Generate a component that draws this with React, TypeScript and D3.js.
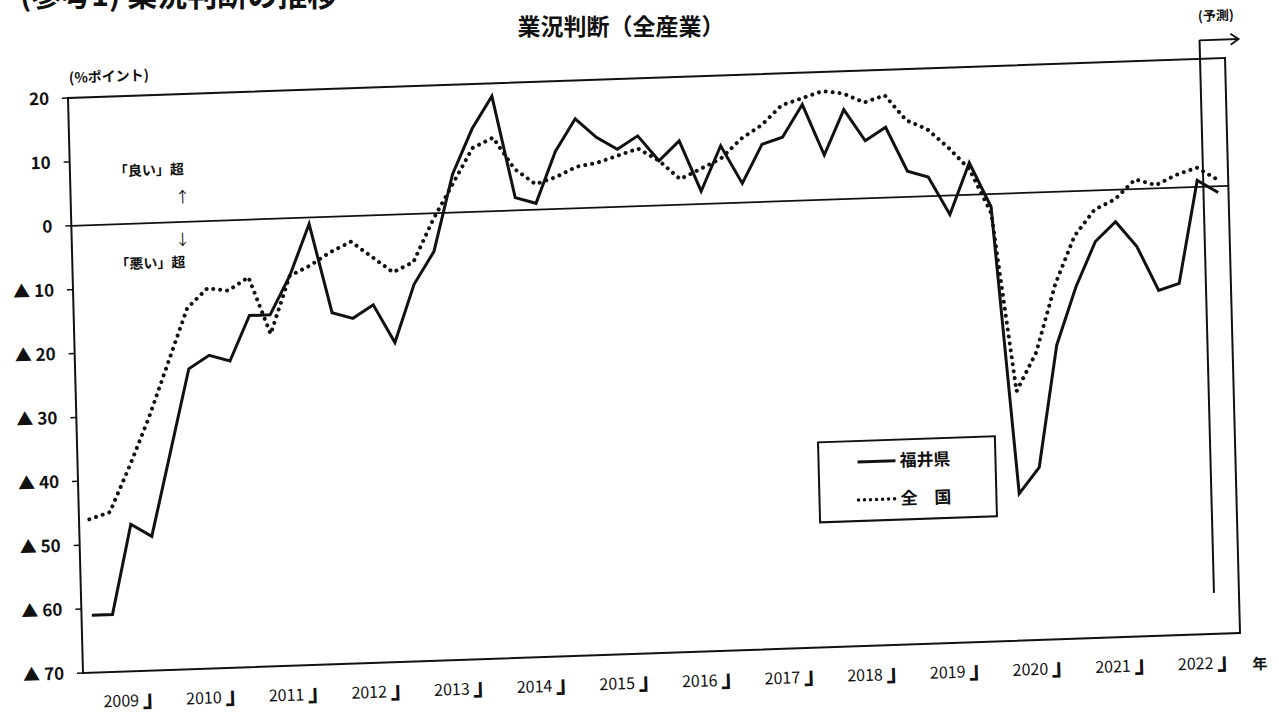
import React from 'react';
import * as d3 from 'd3';

// ---- data (quarterly, 2009Q1 .. 2022Q4; last quarter is forecast) ----
const years = [2009, 2010, 2011, 2012, 2013, 2014, 2015, 2016, 2017, 2018, 2019, 2020, 2021, 2022];
const quarterNames = ['Q1', 'Q2', 'Q3', 'Q4'];

// 福井県 (solid)
const fukui = [
  -61, -61, -47, -49,
  -36, -23, -21, -22,
  -15, -15, -9, -1,
  -15, -16, -14, -20,
  -11, -6, 6, 13,
  18, 2, 1, 9,
  14, 11, 9, 11,
  7, 10, 2, 9,
  3, 9, 10, 15,
  7, 14, 9, 11,
  4, 3, -3, 5,
  -2, -47, -43, -24,
  -15, -8, -5, -9,
  -16, -15, 1, -1,
];

// 全国 (dotted)
const zenkoku = [
  -46, -45, -38, -30.5,
  -22, -13.5, -10.5, -11,
  -9, -18, -9, -7.5,
  -5.5, -4, -6.5, -9,
  -7.5, -1, 4.5, 10,
  11.5, 6.5, 4, 5,
  6.5, 7, 8, 9,
  7, 4, 5.5, 7,
  10, 12, 15, 16,
  17, 16.5, 15, 16,
  12, 10.5, 7.5, 4,
  -3, -31, -25, -14.5,
  -7, -3, -1.5, 1.5,
  0.5, 2, 3, 1,
];

const yTicks = [20, 10, 0, -10, -20, -30, -40, -50, -60, -70];

const W = 1158;
const H = 575;
const FONT = '"Noto Sans CJK JP", "Noto Sans", sans-serif';

export default function App() {
  const quarters = years.flatMap((yr) => quarterNames.map((q) => `${yr}${q}`));
  const x = d3.scaleBand<string>().domain(quarters).range([0, W]).padding(0);
  const yearBand = d3.scaleBand<number>().domain(years).range([0, W]).padding(0);
  const y = d3.scaleLinear().domain([-70, 20]).range([H, 0]);
  const cx = (i: number) => (x(quarters[i]) as number) + x.bandwidth() / 2;
  const line = d3
    .line<number>()
    .x((_, i) => cx(i))
    .y((d) => y(d));

  const tickLabel = (v: number) => (v < 0 ? `▲ ${Math.abs(v)}` : `${v}`);

  return (
    <svg
      width={1279}
      height={717}
      style={{ position: 'absolute', left: 0, top: 0, background: '#fff' }}
      fontFamily={FONT}
    >
      <rect x={0} y={0} width={1279} height={717} fill="#ffffff" />
      {/* heading at the very top (cut off by the page edge in the scan) */}
      <text x={20} y={6} fontSize={30} fontWeight={700} fill="#111">
        (参考1) 業況判断の推移
      </text>
      {/* title */}
      <text x={621} y={35} textAnchor="middle" fontSize={23} fontWeight={700} fill="#111">
        業況判断（全産業）
      </text>

      {/* chart, slightly rotated as in the scanned page */}
      <g transform="matrix(0.99914,-0.03454,0.02609,1,68,98)">
        {/* unit label */}
        <text x={1.5} y={-15} fontSize={14} fontWeight={700} fill="#111">
          (%ポイント)
        </text>

        {/* y ticks and labels */}
        {yTicks.map((v) => (
          <g key={v}>
            <line x1={-6} x2={0} y1={y(v)} y2={y(v)} stroke="#111" strokeWidth={1.5} />
            <text
              x={-19}
              y={y(v) + 6}
              textAnchor="end"
              fontSize={17}
              fontWeight={700}
              fill="#111"
            >
              {tickLabel(v)}
            </text>
          </g>
        ))}

        {/* frame */}
        <rect x={0} y={0} width={W} height={H} fill="none" stroke="#111" strokeWidth={2} />
        {/* zero line */}
        <line x1={0} x2={W} y1={y(0)} y2={y(0)} stroke="#111" strokeWidth={1.8} />

        {/* good / bad annotations */}
        <text x={114} y={80} textAnchor="end" fontSize={14} fontWeight={700} fill="#111">
          「良い」超
        </text>
        <text x={112} y={108} textAnchor="middle" fontSize={15} fill="#111">
          ↑
        </text>
        <text x={111} y={151} textAnchor="middle" fontSize={15} fill="#111">
          ↓
        </text>
        <text x={113} y={173} textAnchor="end" fontSize={14} fontWeight={700} fill="#111">
          「悪い」超
        </text>

        {/* year labels */}
        {years.map((yr) => (
          <text
            key={yr}
            x={(yearBand(yr) as number) + yearBand.bandwidth() / 2 + 10}
            y={610}
            textAnchor="middle"
            fontSize={16}
            fill="#111"
          >
            {`${yr} `}
            <tspan fontWeight={700} fontSize={24} dy={1}>
              」
            </tspan>
          </text>
        ))}
        <text x={1177} y={612} textAnchor="middle" fontSize={15} fontWeight={700} fill="#111">
          年
        </text>

        {/* forecast marker */}
        <line x1={1133} x2={1133} y1={-19} y2={534} stroke="#111" strokeWidth={2} />
        <line x1={1133} x2={1172} y1={-18.5} y2={-18.5} stroke="#111" strokeWidth={1.8} />
        <path d="M1164,-24 L1172,-18.5 L1164,-13" fill="none" stroke="#111" strokeWidth={1.8} />
        <text x={1150} y={-38} textAnchor="middle" fontSize={13} fontWeight={700} fill="#111">
          (予測)
        </text>

        {/* series */}
        <path
          d={line(zenkoku) || ''}
          fill="none"
          stroke="#111"
          strokeWidth={4}
          strokeLinecap="round"
          strokeDasharray="0.01 7"
        />
        <path d={line(fukui) || ''} fill="none" stroke="#111" strokeWidth={3} strokeLinejoin="miter" />

        {/* legend */}
        <rect x={741} y={370} width={177} height={80} fill="#fff" stroke="#111" strokeWidth={2} />
        <line x1={780} x2={818} y1={391} y2={391} stroke="#111" strokeWidth={3} />
        <text x={822} y={397} fontSize={17} fontWeight={700} fill="#111">
          福井県
        </text>
        <line
          x1={780}
          x2={818}
          y1={429}
          y2={429}
          stroke="#111"
          strokeWidth={3.5}
          strokeLinecap="round"
          strokeDasharray="0.01 6"
        />
        <text x={822} y={435} fontSize={17} fontWeight={700} fill="#111">
          全　国
        </text>
      </g>
    </svg>
  );
}
